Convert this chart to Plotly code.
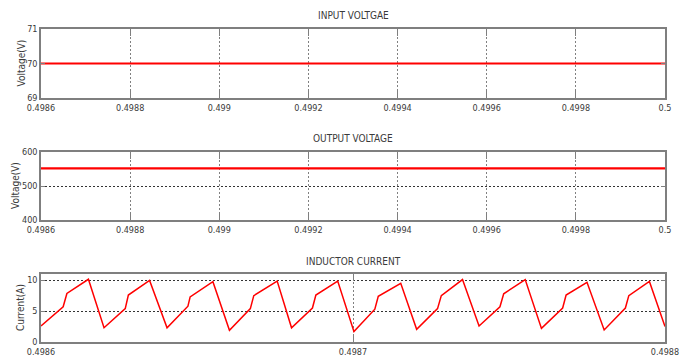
import plotly.graph_objects as go

# ---- data ----
t_volt = [0.4986, 0.5]
v_in = [70, 70]
v_out = [552, 552]

t_cur = [0.4986000, 0.4986071, 0.4986083, 0.4986152,
         0.4986202, 0.4986270, 0.4986280, 0.4986348,
         0.4986404, 0.4986471, 0.4986478, 0.4986551,
         0.4986604, 0.4986671, 0.4986682, 0.4986757,
         0.4986803, 0.4986870, 0.4986881, 0.4986951,
         0.4987003, 0.4987070, 0.4987081, 0.4987153,
         0.4987204, 0.4987271, 0.4987283, 0.4987351,
         0.4987404, 0.4987471, 0.4987483, 0.4987552,
         0.4987604, 0.4987672, 0.4987683, 0.4987750,
         0.4987805, 0.4987873, 0.4987884, 0.4987950,
         0.4988000]
i_L = [2.6, 5.7, 7.85, 10.15,
       2.3, 5.4, 7.6, 9.95,
       2.3, 5.8, 7.3, 9.75,
       1.9, 5.4, 7.5, 9.85,
       2.3, 5.5, 7.6, 9.85,
       1.7, 5.3, 7.4, 9.5,
       2.05, 5.4, 7.5, 10.1,
       2.6, 5.7, 7.8, 10.1,
       2.2, 5.5, 7.6, 9.65,
       1.95, 5.5, 7.5, 9.8,
       2.5]

titles = ["INPUT VOLTGAE", "OUTPUT VOLTAGE", "INDUCTOR CURRENT"]
ylabels = ["Voltage(V)", "Voltage(V)", "Current(A)"]
x_ticks_v = [0.4986, 0.4988, 0.499, 0.4992, 0.4994, 0.4996, 0.4998, 0.5]
x_ticklabels_v = ["0.4986", "0.4988", "0.499", "0.4992", "0.4994", "0.4996", "0.4998", "0.5"]
x_ticks_i = [0.4986, 0.4987, 0.4988]
x_ticklabels_i = ["0.4986", "0.4987", "0.4988"]

FONT = "DejaVu Sans Condensed, Liberation Sans Narrow, Arial Narrow, sans-serif"
W, H = 683, 358
TXT = "#3a3a3a"

fig = go.Figure()
fig.add_trace(go.Scatter(x=t_volt, y=v_in, mode="lines", line=dict(color="#ff0000", width=2.2),
                         xaxis="x", yaxis="y", showlegend=False, hoverinfo="skip"))
fig.add_trace(go.Scatter(x=t_volt, y=v_out, mode="lines", line=dict(color="#ff0000", width=2.2),
                         xaxis="x2", yaxis="y2", showlegend=False, hoverinfo="skip"))
fig.add_trace(go.Scatter(x=t_cur, y=i_L, mode="lines", line=dict(color="#ff0000", width=1.5),
                         xaxis="x3", yaxis="y3", showlegend=False, hoverinfo="skip"))


def px_x(x):
    return x / W


def px_y(y):
    return 1 - y / H


xdom = [px_x(41), px_x(665)]
panels = [(29, 98), (152, 220), (274, 342)]
ydoms = [[px_y(b), px_y(t)] for t, b in panels]

tickfont = dict(family=FONT, size=9, color=TXT)
frame = dict(showline=True, mirror="allticks", linecolor="#7f7f7f", linewidth=1.5,
             ticks="inside", tickcolor="#7f7f7f", tickwidth=1.2,
             zeroline=False, tickfont=tickfont, automargin=False)
xgrid = dict(showgrid=True, gridcolor="#808080", griddash="2px,2px", gridwidth=1, ticklen=7)
ygrid = dict(showgrid=True, gridcolor="#333333", griddash="2px,2px", gridwidth=1, ticklen=4)

layout = dict(
    width=W, height=H, margin=dict(l=0, r=0, t=0, b=0, autoexpand=False),
    paper_bgcolor="white", plot_bgcolor="white",
    font=dict(family=FONT, size=9, color=TXT),
)

layout["xaxis"] = dict(domain=xdom, anchor="y", range=[0.4986, 0.5], tickvals=x_ticks_v,
                       ticktext=x_ticklabels_v, **xgrid, **frame)
layout["yaxis"] = dict(domain=ydoms[0], anchor="x", range=[69, 71], tickvals=[69, 70, 71],
                       showgrid=False, ticklen=4, **frame)
layout["xaxis2"] = dict(domain=xdom, anchor="y2", range=[0.4986, 0.5], tickvals=x_ticks_v,
                        ticktext=x_ticklabels_v, **xgrid, **frame)
layout["yaxis2"] = dict(domain=ydoms[1], anchor="x2", range=[400, 600], tickvals=[400, 500, 600],
                        **ygrid, **frame)
layout["xaxis3"] = dict(domain=xdom, anchor="y3", range=[0.4986, 0.4988], tickvals=x_ticks_i,
                        ticktext=x_ticklabels_i, **xgrid, **frame)
layout["yaxis3"] = dict(domain=ydoms[2], anchor="x3", range=[0, 11], tickvals=[0, 5, 10],
                        **ygrid, **frame)

title_y = [15, 138, 261]
ann = [
    dict(text=t, x=px_x(353), y=px_y(ty), xref="paper", yref="paper", showarrow=False,
         xanchor="center", yanchor="middle", font=dict(family=FONT, size=10, color=TXT))
    for t, ty in zip(titles, title_y)
]
for lab, (t, b), xc in zip(ylabels, panels, [21, 16, 20]):
    ann.append(dict(text=lab, x=px_x(xc), y=px_y((t + b) / 2), xref="paper", yref="paper",
                    showarrow=False, textangle=-90, xanchor="center", yanchor="middle",
                    font=dict(family=FONT, size=10, color=TXT)))
layout["annotations"] = ann

fig.update_layout(**layout)
fig.write_html(
    "out.html",
    config={"displayModeBar": False},
    post_script="document.body.style.margin='0';document.body.style.overflow='hidden';",
)
